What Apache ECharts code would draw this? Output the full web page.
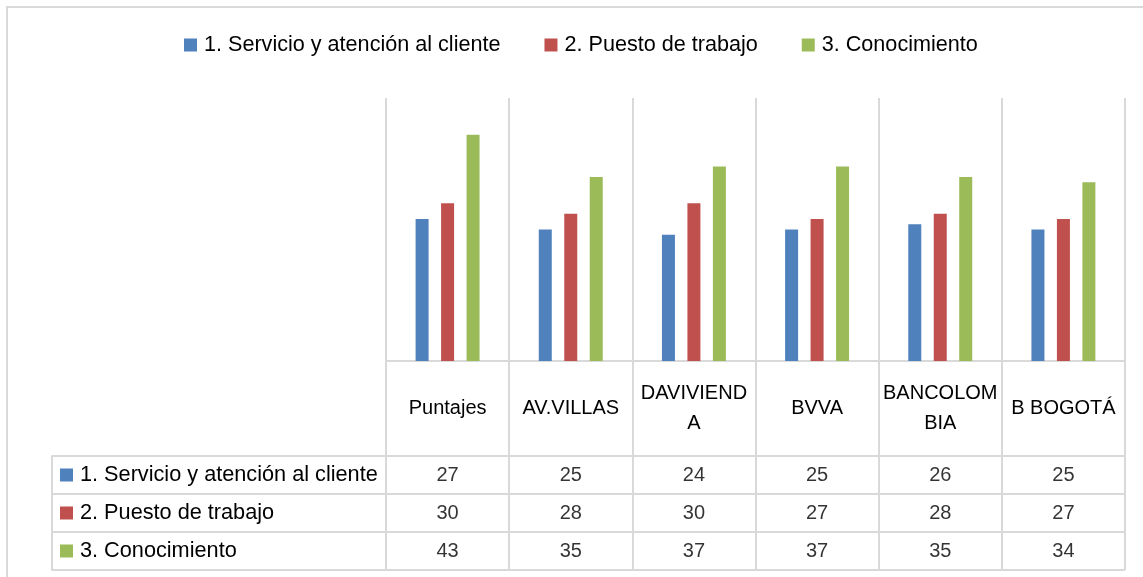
<!DOCTYPE html>
<html>
<head>
<meta charset="utf-8">
<script src="https://cdn.jsdelivr.net/npm/echarts@6/dist/echarts.min.js"></script>
<style>
  html, body { margin: 0; padding: 0; background: #fff; }
  #main { width: 1143px; height: 577px; }
</style>
</head>
<body>
<div id="main"></div>
<script>
var categories = ['Puntajes', 'AV.VILLAS', 'DAVIVIENDA', 'BVVA', 'BANCOLOMBIA', 'B BOGOTÁ'];
var seriesNames = ['1. Servicio y atención al cliente', '2. Puesto de trabajo', '3. Conocimiento'];
var servicio = [27, 25, 24, 25, 26, 25];
var puesto = [30, 28, 30, 27, 28, 27];
var conocimiento = [43, 35, 37, 37, 35, 34];
var COLORS = ['#4F81BD', '#C0504D', '#9BBB59'];

var LINE = '#d9d9d9';
var rows = [servicio, puesto, conocimiento];

// cells of the data table under the plot
var cells = [];
for (var r = 0; r < rows.length; r++) {
  for (var c = 0; c < categories.length; c++) {
    cells.push([c, r, rows[r][c]]);
  }
}

var myChart = echarts.init(document.getElementById('main'));

var barSeries = seriesNames.map(function (name, i) {
  return {
    name: name,
    type: 'bar',
    xAxisIndex: 0,
    yAxisIndex: 0,
    data: rows[i],
    barWidth: 13,
    barGap: '96%',
    itemStyle: { color: COLORS[i] },
    animation: false
  };
});

var rich = { t: { fontSize: 21.7, color: '#000', padding: [0, 0, 0, 7] } };
COLORS.forEach(function (col, i) {
  rich['m' + i] = { width: 13, height: 13, backgroundColor: col };
});

var option = {
  textStyle: { fontFamily: 'Liberation Sans' },
  animation: false,
  legend: {
    data: seriesNames,
    top: 34,
    left: 184,
    padding: 0,
    icon: 'rect',
    itemWidth: 13,
    itemHeight: 13,
    itemGap: 44,
    textStyle: { fontSize: 21.6, color: '#000', padding: [0, 0, 0, 2] }
  },
  graphic: [{
    type: 'rect',
    shape: { x: 7, y: 7, width: 1200, height: 640 },
    style: { fill: 'none', stroke: LINE, lineWidth: 2 },
    silent: true
  }],
  grid: [
    { left: 386, right: 18, top: 98, bottom: 216, outerBoundsMode: 'none' },
    { left: 386, right: 18, top: 456, height: 114, outerBoundsMode: 'none' }
  ],
  xAxis: [{
    type: 'category',
    gridIndex: 0,
    data: categories,
    axisLine: { show: true, lineStyle: { color: LINE, width: 2 } },
    axisTick: { show: true, interval: 0, length: 209, lineStyle: { color: LINE, width: 2 } },
    splitLine: { show: true, interval: 0, lineStyle: { color: LINE, width: 2 } },
    axisLabel: {
      interval: 0,
      margin: 47,
      verticalAlign: 'middle',
      width: 118,
      overflow: 'breakAll',
      lineHeight: 30,
      fontSize: 20,
      color: '#000'
    }
  }, {
    type: 'category',
    gridIndex: 1,
    data: categories,
    axisLine: { show: false },
    axisTick: { show: false },
    axisLabel: { show: false },
    splitLine: { show: false }
  }],
  yAxis: [{
    type: 'value',
    gridIndex: 0,
    min: 0,
    max: 50,
    show: false
  }, {
    type: 'category',
    gridIndex: 1,
    data: seriesNames,
    inverse: true,
    axisLine: { show: false },
    axisTick: { show: true, interval: 0, length: 334, lineStyle: { color: LINE, width: 2 } },
    splitLine: { show: true, interval: 0, lineStyle: { color: LINE, width: 2 } },
    axisLabel: {
      interval: 0,
      align: 'left',
      margin: 326,
      formatter: function (value, index) {
        return '{m' + index + '|}{t|' + value + '}';
      },
      rich: rich
    }
  }, {
    type: 'category',
    gridIndex: 1,
    data: seriesNames,
    position: 'left',
    offset: 334,
    axisLine: { show: true, lineStyle: { color: LINE, width: 2 } },
    axisTick: { show: false },
    axisLabel: { show: false },
    splitLine: { show: false }
  }],
  series: barSeries.concat([{
    name: 'tabla',
    type: 'scatter',
    xAxisIndex: 1,
    yAxisIndex: 1,
    data: cells,
    symbolSize: 1,
    itemStyle: { color: 'rgba(0,0,0,0)' },
    label: {
      show: true,
      position: 'inside',
      formatter: function (p) { return p.value[2]; },
      fontSize: 20,
      color: '#000'
    },
    silent: true
  }])
};

myChart.setOption(option);
</script>
</body>
</html>
